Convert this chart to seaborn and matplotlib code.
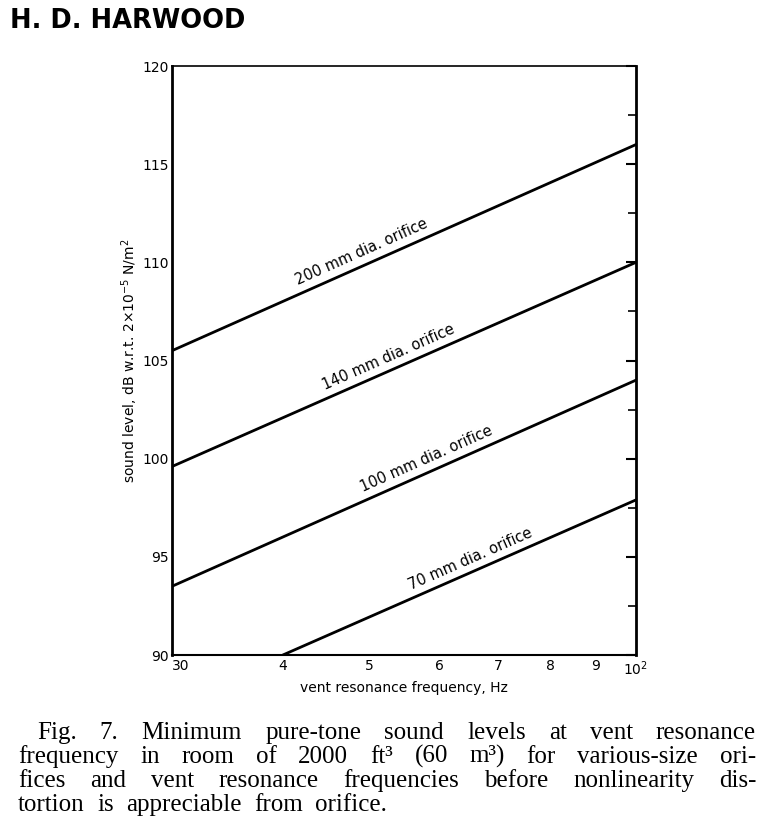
import numpy as np
import pandas as pd
import seaborn as sns
import matplotlib
matplotlib.use("Agg")
import matplotlib.pyplot as plt
from matplotlib.ticker import FixedLocator, FixedFormatter, NullFormatter

# data (straight lines on the log frequency axis)
orifices = ["200 mm dia. orifice", "140 mm dia. orifice",
            "100 mm dia. orifice", "70 mm dia. orifice"]
freq_start = [30, 30, 30, 40]
freq_end = [100, 100, 100, 100]
level_start = [105.5, 99.6, 93.5, 90.0]
level_end = [116.0, 110.0, 104.0, 97.9]
label_freq = [49.5, 53.0, 58.5, 65.5]

x_ticks = [30, 40, 50, 60, 70, 80, 90, 100]
x_ticklabels = ["30", "4", "5", "6", "7", "8", "9", "10$^2$"]
y_ticks = [90, 95, 100, 105, 110, 115, 120]

caption_lines = [
    "Fig. 7. Minimum pure-tone sound levels at vent resonance",
    "frequency in room of 2000 ft³ (60 m³) for various-size ori-",
    "fices and vent resonance frequencies before nonlinearity dis-",
    "tortion is appreciable from orifice.",
]

rows = []
for name, f0, f1, l0, l1 in zip(orifices, freq_start, freq_end, level_start, level_end):
    rows.append({"orifice": name, "freq": f0, "level": l0})
    rows.append({"orifice": name, "freq": f1, "level": l1})
df = pd.DataFrame(rows)

sns.set_style("white")
plt.rcParams['font.family'] = ['DejaVu Sans']
plt.rcParams['text.color'] = 'black'
plt.rcParams['axes.labelcolor'] = 'black'
plt.rcParams['xtick.color'] = 'black'
plt.rcParams['ytick.color'] = 'black'

fig = plt.figure(figsize=(7.61, 8.36), dpi=100)
ax = fig.add_axes([172 / 761, 1 - 655 / 836, 464 / 761, 589 / 836])

sns.lineplot(data=df, x="freq", y="level", units="orifice", estimator=None,
             color="black", linewidth=2.0, ax=ax, legend=False)

ax.set_xscale("log")
ax.set_xlim(30, 100)
ax.set_ylim(90, 120)

ax.xaxis.set_major_locator(FixedLocator(x_ticks))
ax.xaxis.set_major_formatter(FixedFormatter(x_ticklabels))
ax.xaxis.set_minor_locator(FixedLocator([]))
ax.xaxis.set_minor_formatter(NullFormatter())
ax.yaxis.set_major_locator(FixedLocator(y_ticks))
ax.yaxis.set_minor_locator(FixedLocator([92.5, 97.5, 102.5, 107.5, 112.5, 117.5]))

ax.tick_params(axis="x", which="both", direction="in", length=6, width=1.5,
               labelsize=10, pad=3, top=False)
ax.tick_params(axis="y", which="major", direction="in", length=7, width=1.5,
               labelsize=10, pad=2, right=True)
ax.tick_params(axis="y", which="minor", direction="in", length=6, width=1.2,
               right=True)
ax.get_xticklabels()[0].set_horizontalalignment("left")

for side in ["left", "right", "top", "bottom"]:
    ax.spines[side].set_visible(True)
    ax.spines[side].set_color("black")
ax.spines["left"].set_linewidth(2.0)
ax.spines["right"].set_linewidth(2.0)
ax.spines["bottom"].set_linewidth(1.5)
ax.spines["top"].set_linewidth(1.2)

ax.set_xlabel("vent resonance frequency, Hz", fontsize=10, labelpad=2)
ax.set_ylabel("sound level, dB w.r.t. 2×10$^{-5}$ N/m$^2$", fontsize=10, labelpad=2)

# labels along the lines
fig.canvas.draw()
for name, f0, f1, l0, l1, fl in zip(orifices, freq_start, freq_end,
                                     level_start, level_end, label_freq):
    p0 = ax.transData.transform((f0, l0))
    p1 = ax.transData.transform((f1, l1))
    ang = np.degrees(np.arctan2(p1[1] - p0[1], p1[0] - p0[0]))
    lv = l0 + (l1 - l0) * np.log10(fl / f0) / np.log10(f1 / f0)
    ax.text(fl, lv + 0.3, name, rotation=ang, rotation_mode="anchor",
            ha="center", va="bottom", fontsize=10.5)

fig.text(10 / 761, 1 - 21 / 836, "H. D. HARWOOD", fontsize=18.5,
         fontweight="bold", ha="left", va="center")

# justified caption
renderer = fig.canvas.get_renderer()
left_px = [37, 18, 18, 18]
right_px = 756
baselines = [739, 763, 787, 811]
W, H = 761, 836
cap_font = dict(family="Liberation Serif", fontsize=18)

sp = fig.text(0, 0, "a a", **cap_font)
sp2 = fig.text(0, 0, "aa", **cap_font)
space_w = sp.get_window_extent(renderer).width - sp2.get_window_extent(renderer).width
sp.remove()
sp2.remove()

for i, line in enumerate(caption_lines):
    words = line.split(" ")
    objs = [fig.text(0, 0, w, va="baseline", ha="left", **cap_font) for w in words]
    widths = [o.get_window_extent(renderer).width for o in objs]
    if i < len(caption_lines) - 1:
        gap = (right_px - left_px[i] - sum(widths)) / (len(words) - 1)
    else:
        gap = space_w * 2.0
    x = left_px[i]
    for o, w in zip(objs, widths):
        o.set_position((x / W, 1 - baselines[i] / H))
        x += w + gap

fig.savefig("out.png", dpi=100)
